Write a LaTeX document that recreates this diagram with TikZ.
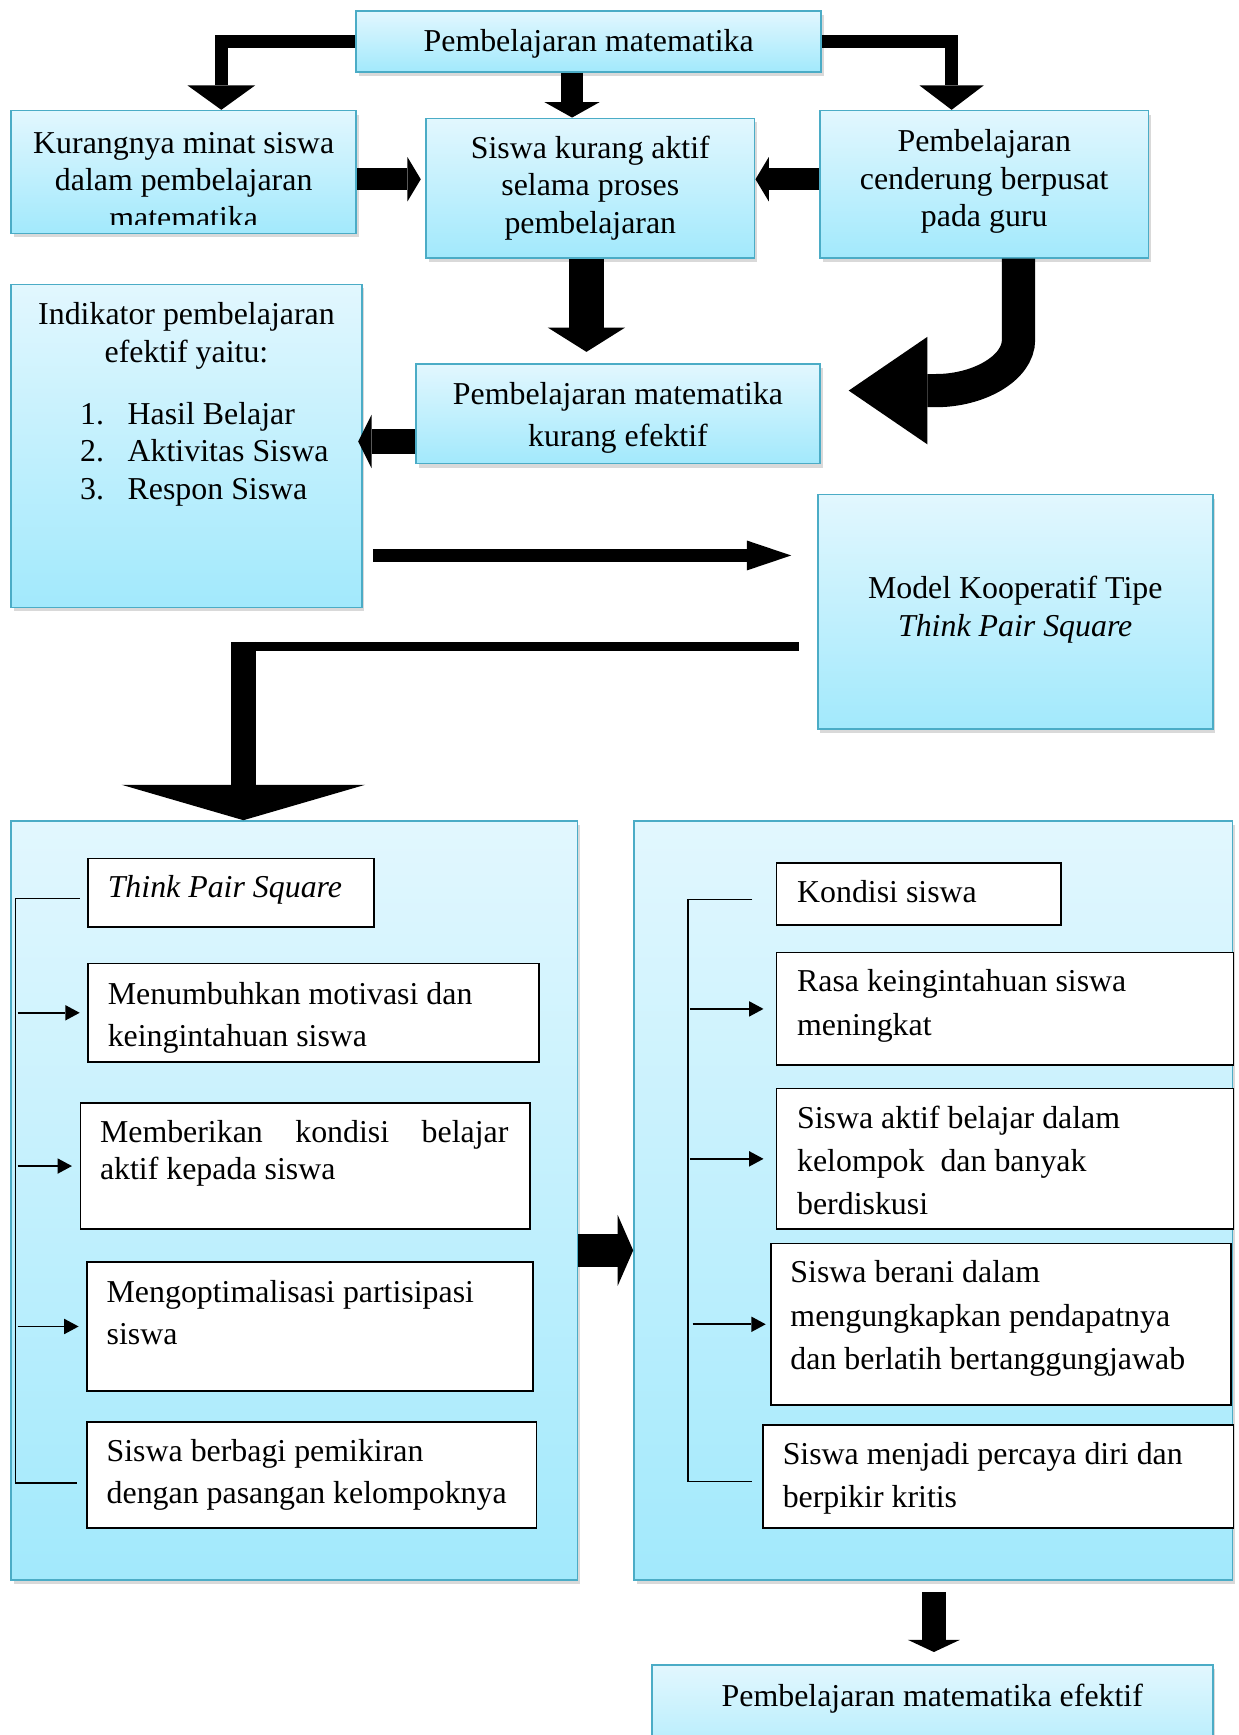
\documentclass[tikz,border=0pt]{standalone}
\usepackage{fontspec}
\setmainfont{Liberation Serif}
\usetikzlibrary{arrows.meta,calc,positioning,shadows}
\definecolor{tpstop}{RGB}{226,247,254}
\definecolor{tpsbot}{RGB}{162,233,252}
\definecolor{tpsedge}{RGB}{75,172,198}
\tikzset{
  cbox/.style={draw=tpsedge,line width=.75pt,top color=tpstop,bottom color=tpsbot,
    inner sep=0pt,drop shadow={shadow xshift=1.2pt,shadow yshift=-1.8pt,opacity=.3}},
  wbox/.style={draw=black,line width=.8pt,fill=white,inner sep=0pt},
  txt/.style={inner sep=0pt,align=center,font=\fontsize{14.4}{17}\selectfont},
  ltxt/.style={inner sep=0pt,align=left,anchor=north west,font=\fontsize{14.4}{19}\selectfont},
  rtxt/.style={ltxt,font=\fontsize{14.4}{19.5}\selectfont},
  fat/.style n args={3}{line width=#1,line join=miter,
    -{Triangle[width=#2,length=#3,line width=0pt]}},
  trunk/.style={line width=.75pt},
  thinarr/.style={line width=.75pt,-{Triangle[width=7pt,length=6.5pt,line width=0pt]},shorten >=#1},
  thinarr/.default=3.5pt
}
% cyan box: name, centre x, centre y, width, height
\newcommand{\cbox}[5]{%
  \node[cbox,minimum width=#4*.5pt,minimum height=#5*.5pt] (#1) at (#2,#3) {};
}
% white box: name, left, top, width, height
\newcommand{\wbox}[5]{%
  \node[wbox,anchor=north west,minimum width=#4*.5pt,minimum height=#5*.5pt] (#1) at (#2,#3) {};
}
\begin{document}
\begin{tikzpicture}[x=.5pt,y=-.5pt]
  \useasboundingbox (0,0) rectangle (1119,1568);
  % upper boxes
  \cbox{top}{532}{37.5}{420}{55}
  \cbox{kur}{166}{155.5}{312}{111}
  \cbox{sis}{533.5}{170}{297}{126}
  \cbox{ctr}{889.5}{166.5}{297}{133}
  \cbox{ind}{168.5}{403}{317}{292}
  \cbox{ke}{558.5}{374}{365}{90}
  \cbox{tps}{917.5}{553}{357}{212}
  \node[txt] (topt) at (532,40) {Pembelajaran matematika};
  \begin{scope}
    \clip (kur.north west) rectangle (kur.east |- 0,203);
    \node[txt] (kurt) at (166,163) {Kurangnya minat siswa\\dalam pembelajaran\\matematika};
  \end{scope}
  \node[txt] (sist) at (533.5,170) {Siswa kurang aktif\\selama proses\\pembelajaran};
  \node[txt] (ctrt) at (889.5,164) {Pembelajaran\\cenderung berpusat\\pada guru};
  \node[txt,anchor=north] (indt) at (168.5,273) {Indikator pembelajaran\\efektif yaitu:};
  \node[txt,align=left,anchor=north west] (indl) at (72,363)
    {\makebox[21.5pt][l]{1.}Hasil Belajar\\\makebox[21.5pt][l]{2.}Aktivitas Siswa\\\makebox[21.5pt][l]{3.}Respon Siswa};
  \node[txt,font=\fontsize{14.4}{19}\selectfont] (ket) at (558.5,378) {Pembelajaran matematika\\kurang efektif};
  \node[txt] (tpst) at (917.5,551) {Model Kooperatif Tipe\\\textit{Think Pair Square}};
  % block arrows
  \draw[fat={6pt}{30.5pt}{11pt}] (top.west) -| (kur.north -| 200,0);
  \draw[fat={10pt}{25pt}{7pt}] (top.south -| 517,0) -- (sis.north -| 517,0);
  \draw[fat={6pt}{29pt}{11pt}] (top.east) -| (ctr.north -| 860,0);
  \draw[fat={10pt}{20pt}{6pt}] (kur.east |- 0,162) -- ([xshift=-2pt]sis.west |- 0,162);
  \draw[fat={10pt}{20pt}{6pt}] (ctr.west |- 0,162) -- (sis.east |- 0,162);
  \coordinate (kein) at (530,318);
  \draw[fat={16pt}{35pt}{11pt}] (sis.south -| kein) -- (kein);
  \draw[fat={11pt}{24pt}{6pt}] (ke.west |- 0,399) -- ([xshift=-2pt]ind.east |- 0,399);
  \coordinate (kecurve) at (767,353);
  \draw[fat={15pt}{48.5pt}{35.5pt}] (ctr.south -| 920.5,0) -- (920.5,307)
    .. controls (920.5,333) and (884,353) .. (846,353) -- (kecurve);
  \coordinate (indout) at (337,502);
  \coordinate (tpsin) at (715,502);
  \draw[fat={6pt}{13.5pt}{20pt}] (indout) -- (tpsin);
  % lower panels
  \cbox{lp}{266}{1085}{512}{686}
  \cbox{rp}{843.5}{1085}{541}{686}
  \cbox{fin}{842.5}{1560}{507}{110}
  \node[txt] (fint) at (842.5,1535) {Pembelajaran matematika efektif};
  \coordinate (tpsout) at (722,584);
  \coordinate (lpbend) at (220,580);
  \draw[line width=4pt] (tpsout) -- (tpsout -| 209,0);
  \draw[fat={11pt}{110pt}{16pt}] (lpbend) -- (lp.north -| lpbend);
  \draw[fat={15pt}{32pt}{7pt}] (lp.east |- 0,1130) -- (rp.west |- 0,1130);
  \coordinate (rpout) at (844,1439);
  \coordinate (finin) at (844,1493);
  \draw[fat={11pt}{23.5pt}{5.5pt}] (rpout) -- (finin);
  % left panel items
  \wbox{lb1}{79}{775}{258}{62}
  \wbox{lb2}{79}{870}{407}{89}
  \wbox{lb3}{72}{996}{406}{114}
  \wbox{lb4}{78}{1140}{403}{116}
  \wbox{lb5}{78}{1284}{406}{96}
  \node[ltxt] (lb1t) at ([shift={(18,16)}]lb1.north west) {\textit{Think Pair Square}};
  \node[ltxt] (lb2t) at ([shift={(18,17)}]lb2.north west) {Menumbuhkan motivasi dan\\keingintahuan siswa};
  \node[ltxt,font=\fontsize{14.4}{17}\selectfont] (lb3t) at ([shift={(18,16)}]lb3.north west)
    {\makebox[184.5pt][s]{Memberikan kondisi belajar}\\aktif kepada siswa};
  \node[ltxt] (lb4t) at ([shift={(18,17)}]lb4.north west) {Mengoptimalisasi partisipasi\\siswa};
  \node[ltxt] (lb5t) at ([shift={(18,16)}]lb5.north west) {Siswa berbagi pemikiran\\dengan pasangan kelompoknya};
  \coordinate (ltop) at (72,812);
  \coordinate (lbot) at (70,1340);
  \draw[trunk] (ltop) -- (14,812) -- (14,1340) -- (lbot);
  \draw[thinarr] (lb2.west -| 16,0) -- (lb2.west);
  \draw[thinarr] (lb3.west -| 16,0) -- (lb3.west);
  \draw[thinarr] (lb4.west -| 16,0) -- (lb4.west);
  % right panel items
  \wbox{rb1}{701}{779}{257}{56}
  \wbox{rb2}{701}{860}{413}{102}
  \wbox{rb3}{701}{983}{413}{127}
  \wbox{rb4}{696}{1123}{416}{146}
  \wbox{rb5}{689}{1287}{425}{93}
  \node[rtxt] (rb1t) at ([shift={(19,16)}]rb1.north west) {Kondisi siswa};
  \node[rtxt] (rb2t) at ([shift={(19,16)}]rb2.north west) {Rasa keingintahuan siswa\\meningkat};
  \node[rtxt] (rb3t) at ([shift={(19,16)}]rb3.north west) {Siswa aktif belajar dalam\\kelompok\ \ dan banyak\\berdiskusi};
  \node[rtxt] (rb4t) at ([shift={(18,16)}]rb4.north west) {Siswa berani dalam\\mengungkapkan pendapatnya\\dan berlatih bertanggungjawab};
  \node[rtxt] (rb5t) at ([shift={(18,16)}]rb5.north west) {Siswa menjadi percaya diri dan\\berpikir kritis};
  \coordinate (rtop) at (680,813);
  \coordinate (rbot) at (680,1339);
  \draw[trunk] (rtop) -- (622,813) -- (622,1339) -- (rbot);
  \draw[thinarr=5.5pt] (rb2.west -| 624,0) -- (rb2.west);
  \draw[thinarr=5.5pt] (rb3.west -| 624,0) -- (rb3.west);
  \draw[thinarr=2pt] (rb4.west -| 626,0) -- (rb4.west);
\end{tikzpicture}
\end{document}
